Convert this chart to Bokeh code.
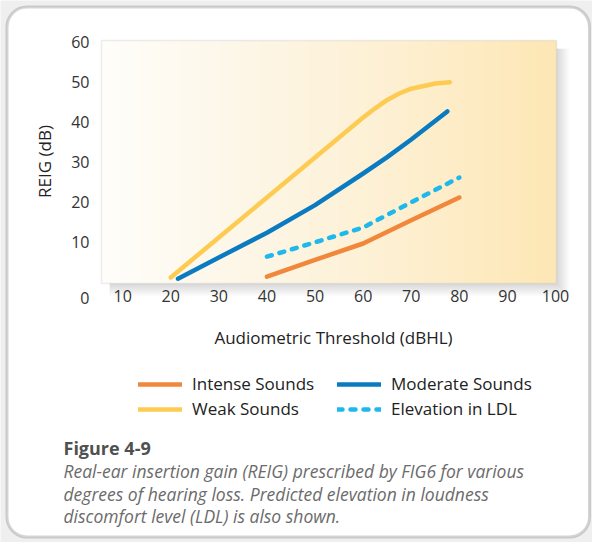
import numpy as np
from bokeh.plotting import figure
from bokeh.models import (Range1d, FixedTicker, Label, BoxAnnotation, Legend,
                          LegendItem)
from bokeh.embed import file_html
from bokeh.resources import INLINE

# ---------------- data ----------------
weak_x = [20, 30, 40, 50, 60, 62.5, 65, 67.5, 70, 75, 78]
weak_y = [1.0, 11.0, 21.0, 31.0, 41.0, 43.3, 45.4, 47.0, 48.2, 49.5, 49.8]

moderate_x = [21.5, 30, 40, 50, 60, 65, 70, 77.5]
moderate_y = [0.7, 6.0, 12.2, 19.1, 27.0, 31.1, 35.5, 42.5]

ldl_x = [40, 50, 60, 70, 80]
ldl_y = [6.2, 9.8, 13.5, 19.8, 26.0]

intense_x = [40, 50, 60, 70, 80]
intense_y = [1.2, 5.4, 9.5, 15.3, 21.0]

x_ticks = [10, 20, 30, 40, 50, 60, 70, 80, 90, 100]
y_ticks = [10, 20, 30, 40, 50, 60]

series_names = ["Intense Sounds", "Weak Sounds", "Moderate Sounds", "Elevation in LDL"]
x_label = "Audiometric Threshold (dBHL)"
y_label = "REIG (dB)"
origin_label = "0"
caption_title = "Figure 4-9"
caption_lines = [
    "Real-ear insertion gain (REIG) prescribed by FIG6 for various",
    "degrees of hearing loss. Predicted elevation in loudness",
    "discomfort level (LDL) is also shown.",
]

# ---------------- layout ----------------
FONT = "Open Sans"
W, H = 592, 542
# chart data extent
X0, X1 = 5.6, 100.2
Y0, Y1 = -0.5, 60.25
# chart box position in page pixels
FL, FR, FT, FB = 101, 556, 40, 283


def dx(px):
    return X0 + (px - FL) * (X1 - X0) / (FR - FL)


def dy(py):
    return Y0 + (FB - py) * (Y1 - Y0) / (FB - FT)


p = figure(width=W, height=H, x_range=Range1d(dx(0), dx(W)), y_range=Range1d(dy(H), dy(0)),
           output_backend="svg", toolbar_location=None,
           min_border_left=0, min_border_right=0, min_border_top=0, min_border_bottom=0)
p.title.visible = False
p.border_fill_color = "#efefef"
p.background_fill_color = "#efefef"
p.outline_line_color = None
p.xgrid.visible = False
p.ygrid.visible = False

# outer rounded card
p.add_layout(BoxAnnotation(left=dx(6.5), right=dx(589), top=dy(6.5), bottom=dy(536.5),
                           fill_color="white", fill_alpha=1.0, line_color="#707070",
                           line_width=3, border_radius=20, level="underlay"))
# soft shadow of the chart box
for k in range(1, 14):
    p.add_layout(BoxAnnotation(left=dx(FL + 8), right=dx(FR + k), top=dy(FT + 8),
                               bottom=dy(FB + k), fill_color="black", fill_alpha=0.011,
                               line_alpha=0, level="underlay"))

# gradient background of the chart box
N = FR - FL
t = np.linspace(0, 1, N)
stops_t = [0.0, 0.35, 0.6, 1.0]
stops_c = [(255, 254, 251), (253, 246, 229), (253, 241, 213), (253, 231, 181)]
img = np.zeros((1, N, 4), dtype=np.uint8)
for ch in range(3):
    img[0, :, ch] = np.interp(t, stops_t, [c[ch] for c in stops_c]).astype(np.uint8)
img[0, :, 3] = 255
p.image_rgba(image=[img.view(np.uint32).reshape(1, N)], x=X0, y=Y0, dw=X1 - X0, dh=Y1 - Y0)
# chart box outline
p.add_layout(BoxAnnotation(left=X0, right=X1, bottom=Y0, top=Y1, fill_alpha=0,
                           line_color="#c2c5c9", line_width=1.5))

LW = 4.5
r_int = p.line(intense_x, intense_y, line_color="#f1873a", line_width=LW,
               line_cap="round", line_join="round")
r_weak = p.line(weak_x, weak_y, line_color="#fdcb52", line_width=LW,
                line_cap="round", line_join="round")
r_mod = p.line(moderate_x, moderate_y, line_color="#0b7bc1", line_width=LW,
               line_cap="round", line_join="round")
r_ldl = p.line(ldl_x, ldl_y, line_color="#1fb8ec", line_width=LW, line_dash="5 8",
               line_cap="round", line_join="round")

# axes, pinned to the chart box edges
for ax in (p.xaxis[0], p.yaxis[0]):
    ax.axis_line_color = None
    ax.major_tick_line_color = None
    ax.minor_tick_line_color = None
    ax.major_tick_out = 0
    ax.major_tick_in = 0
    ax.minor_tick_out = 0
    ax.minor_tick_in = 0
    ax.major_label_text_font = FONT
    ax.major_label_text_font_size = "16px"
    ax.major_label_text_color = "#333333"
p.xaxis.ticker = FixedTicker(ticks=x_ticks)
p.yaxis.ticker = FixedTicker(ticks=y_ticks)
p.xaxis.fixed_location = Y0
p.yaxis.fixed_location = X0
p.xaxis.major_label_standoff = 6
p.yaxis.major_label_standoff = 12

# axis titles
p.add_layout(Label(x=dx(333), y=dy(337), text=x_label, text_align="center",
                   text_baseline="middle", text_font=FONT, text_font_size="17px",
                   text_color="#222222"))
p.add_layout(Label(x=dx(44), y=dy(161), text=y_label, text_align="center",
                   text_baseline="middle", angle=np.pi / 2, text_font=FONT,
                   text_font_size="17px", text_color="#222222"))
# shared origin label
p.add_layout(Label(x=dx(89), y=dy(297), text=origin_label, text_align="right",
                   text_baseline="middle", text_font=FONT, text_font_size="16px",
                   text_color="#333333"))

legend_style = dict(orientation="vertical", glyph_width=44, glyph_height=20,
                    label_height=20, spacing=2, label_standoff=10, padding=0, margin=0,
                    border_line_color=None, background_fill_alpha=0,
                    label_text_font=FONT, label_text_font_size="17px",
                    label_text_color="#222222")
legend_left = Legend(items=[LegendItem(label=series_names[0], renderers=[r_int]),
                            LegendItem(label=series_names[1], renderers=[r_weak])],
                     location=(138, 122), **legend_style)
legend_right = Legend(items=[LegendItem(label=series_names[2], renderers=[r_mod]),
                             LegendItem(label=series_names[3], renderers=[r_ldl])],
                      location=(337, 122), **legend_style)
p.add_layout(legend_left, "center")
p.add_layout(legend_right, "center")

p.add_layout(Label(x=dx(63), y=dy(447), text=caption_title, text_baseline="middle",
                   text_font=FONT, text_font_size="18px", text_font_style="bold",
                   text_color="#505050"))
for i, line in enumerate(caption_lines):
    p.add_layout(Label(x=dx(63), y=dy(470.5 + 22.5 * i), text=line,
                       text_baseline="middle", text_font=FONT, text_font_size="17.5px",
                       text_font_style="italic", text_color="#6b6b6b"))

open("out.html", "w").write(file_html(p, INLINE))
